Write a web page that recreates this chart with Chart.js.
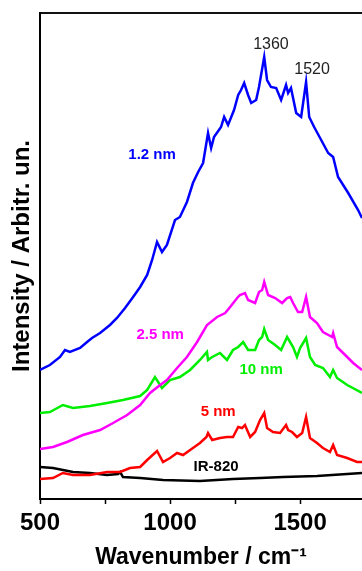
<!DOCTYPE html>
<html>
<head>
<meta charset="utf-8">
<script src="https://cdn.jsdelivr.net/npm/chart.js@4.4.1/dist/chart.umd.min.js"></script>
<style>
  html, body { margin: 0; padding: 0; background: #fff; overflow: hidden; }
  #wrap { width: 362px; height: 571px; }
</style>
</head>
<body>
<div id="wrap"><canvas id="ramanChart" width="362" height="571"></canvas></div>
<script>
// Raman spectra (intensity in arbitrary units)

// 1.2 nm
const wn12  = [500, 538, 577, 596, 615, 654, 681, 700, 731, 769, 796, 827, 858, 885, 912, 931, 950, 969, 988, 1019, 1038, 1065, 1088, 1108, 1127, 1146, 1158, 1169, 1196, 1208, 1223, 1246, 1262, 1273, 1285, 1300, 1312, 1331, 1342, 1362, 1373, 1388, 1408, 1427, 1446, 1454, 1465, 1485, 1504, 1523, 1535, 1554, 1581, 1608, 1627, 1646, 1685, 1723, 1738];
const int12 = [129, 134, 142, 149, 147, 151, 157, 161, 166, 174, 181, 191, 202, 212, 224, 239, 257, 247, 254, 279, 282, 297, 316, 327, 336, 366, 351, 362, 372, 382, 374, 389, 404, 409, 416, 404, 396, 399, 412, 442, 419, 412, 411, 399, 414, 406, 411, 386, 382, 417, 382, 372, 359, 346, 342, 322, 306, 289, 281];

// 2.5 nm
const wn25  = [500, 550, 604, 665, 731, 781, 835, 885, 923, 962, 988, 1027, 1065, 1104, 1142, 1181, 1212, 1231, 1258, 1269, 1288, 1300, 1327, 1342, 1354, 1362, 1377, 1404, 1431, 1450, 1462, 1473, 1492, 1508, 1523, 1538, 1565, 1588, 1623, 1627, 1642, 1681, 1704, 1738];
const int25 = [50, 52, 57, 64, 69, 76, 84, 94, 106, 114, 119, 131, 142, 157, 174, 182, 186, 192, 201, 204, 206, 199, 196, 207, 209, 217, 204, 201, 196, 201, 202, 196, 187, 187, 202, 182, 176, 167, 162, 166, 152, 142, 136, 129];

// 10 nm
const wn10  = [500, 538, 588, 627, 692, 758, 819, 885, 912, 942, 969, 1000, 1038, 1077, 1115, 1142, 1146, 1162, 1192, 1219, 1242, 1262, 1281, 1300, 1327, 1342, 1354, 1362, 1377, 1404, 1427, 1450, 1473, 1488, 1500, 1523, 1538, 1558, 1588, 1615, 1627, 1642, 1681, 1738];
const int10 = [86, 87, 94, 91, 93, 96, 99, 103, 109, 122, 111, 119, 122, 129, 139, 147, 139, 142, 146, 139, 149, 152, 157, 149, 149, 159, 162, 170, 159, 154, 149, 162, 152, 142, 151, 161, 142, 134, 131, 122, 129, 121, 114, 106];

// 5 nm
const wn5  = [500, 550, 588, 627, 692, 758, 808, 846, 885, 912, 950, 973, 1000, 1027, 1050, 1088, 1115, 1140, 1146, 1162, 1192, 1219, 1242, 1262, 1277, 1288, 1308, 1327, 1346, 1362, 1373, 1396, 1423, 1446, 1454, 1469, 1488, 1508, 1523, 1538, 1565, 1588, 1615, 1627, 1642, 1681, 1719, 1738];
const int5 = [20, 21, 26, 24, 24, 27, 27, 31, 32, 39, 48, 37, 41, 46, 44, 51, 56, 62, 66, 59, 61, 62, 62, 72, 71, 74, 62, 67, 79, 86, 71, 67, 66, 74, 69, 67, 62, 66, 82, 61, 56, 51, 47, 54, 44, 41, 37, 37];

// IR-820
const wnIR  = [500, 550, 627, 692, 758, 800, 808, 819, 885, 973, 1115, 1242, 1346, 1435, 1565, 1738];
const intIR = [32, 31, 27, 26, 24, 25, 27, 22, 21, 19, 18, 20, 21, 22, 23, 26];

const xTicks = [500, 750, 1000, 1250, 1500];
const xLabelled = [500, 1000, 1500];

const seriesLabels = ["1.2 nm", "2.5 nm", "10 nm", "5 nm", "IR-820"];
const seriesColors = ["#0000ff", "#ff00ff", "#00ee00", "#ff0000", "#000000"];

// text on the plot: [text, wavenumber, intensity, color, bold]
const notes = [
  ["1360", 1388, 454, "#222222", false],
  ["1520", 1546, 429, "#222222", false],
  ["1.2 nm", 931, 344, "#0000ff", true],
  ["2.5 nm", 962, 164, "#ff00ff", true],
  ["10 nm", 1350, 129, "#00ee00", true],
  ["5 nm", 1185, 87, "#ff0000", true],
  ["IR-820", 1177, 32, "#000000", true]
];

const FONT = "'Liberation Sans', Arial, sans-serif";

function toPoints(xs, ys) {
  return xs.map((x, i) => ({ x: x, y: ys[i] }));
}

const allX = [wn12, wn25, wn10, wn5, wnIR];
const allY = [int12, int25, int10, int5, intIR];

const datasets = allX.map((xs, i) => ({
  label: seriesLabels[i],
  data: toPoints(xs, allY[i]),
  borderColor: seriesColors[i],
  backgroundColor: seriesColors[i],
  borderWidth: 2.5,
  pointRadius: 0,
  tension: 0,
  fill: false
}));

// draws the peak numbers and the series names in data coordinates
const notesPlugin = {
  id: "notes",
  afterDatasetsDraw(chart) {
    const ctx = chart.ctx;
    const xs = chart.scales.x;
    const ys = chart.scales.y;
    ctx.save();
    ctx.textAlign = "center";
    ctx.textBaseline = "middle";
    notes.forEach(([text, wx, wy, color, bold]) => {
      ctx.font = (bold ? "bold 15px " : "16px ") + FONT;
      ctx.fillStyle = color;
      ctx.fillText(text, xs.getPixelForValue(wx), ys.getPixelForValue(wy));
    });
    ctx.restore();
  }
};

new Chart(document.getElementById("ramanChart"), {
  type: "line",
  data: { datasets: datasets },
  options: {
    responsive: false,
    animation: false,
    layout: { padding: { top: 13, right: 0, bottom: 0, left: 0 } },
    plugins: {
      legend: { display: false },
      tooltip: { enabled: false }
    },
    scales: {
      x: {
        type: "linear",
        position: "bottom",
        min: 500,
        max: 1738,
        afterBuildTicks: s => { s.ticks = xTicks.map(v => ({ value: v })); },
        afterFit: s => { s.height = 72; },
        ticks: {
          autoSkip: false,
          maxRotation: 0,
          padding: 5,
          color: "#000",
          font: { family: FONT, size: 24, weight: "bold" },
          callback: v => xLabelled.includes(v) ? String(v) : ""
        },
        grid: { display: true, drawOnChartArea: false, drawTicks: true, tickLength: 5, tickColor: "#000", tickWidth: 1.5 },
        border: { display: true, color: "#000", width: 2 },
        title: {
          display: true,
          text: "Wavenumber / cm\u207B\u00B9",
          color: "#000",
          font: { family: FONT, size: 23, weight: "bold" },
          padding: { top: 0, bottom: 0 }
        }
      },
      xTop: {
        type: "linear",
        position: "top",
        min: 500,
        max: 1738,
        afterFit: s => { s.height = 0; },
        ticks: { display: false },
        grid: { display: false },
        border: { display: true, color: "#111", width: 2 }
      },
      y: {
        type: "linear",
        position: "left",
        min: 0,
        max: 486,
        afterFit: s => { s.width = 40; },
        ticks: { display: false },
        grid: { display: false },
        border: { display: true, color: "#000", width: 2 },
        title: {
          display: true,
          text: "Intensity / Arbitr. un.",
          color: "#000",
          font: { family: FONT, size: 24, weight: "bold" },
          padding: { top: 8, bottom: 0 }
        }
      }
    }
  },
  plugins: [notesPlugin]
});
</script>
</body>
</html>
